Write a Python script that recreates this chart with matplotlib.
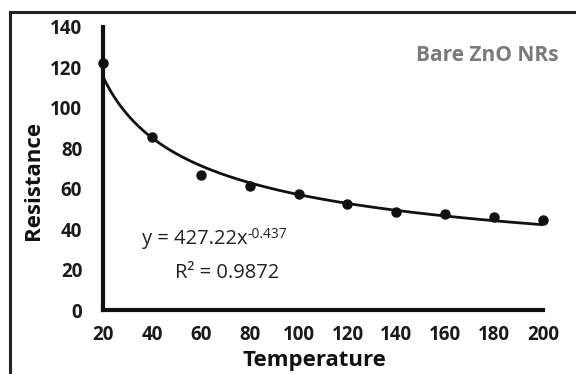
import numpy as np
import matplotlib.pyplot as plt
from matplotlib.lines import Line2D

plt.rcParams['font.family'] = ['Open Sans', 'DejaVu Sans']

temperature = [20, 40, 60, 80, 100, 120, 140, 160, 180, 200]
resistance = [122, 85.5, 67, 61.3, 57.2, 52.4, 48.6, 47.3, 46, 44.3]

# power trendline y = a * x^b
coef_a = 427.22
coef_b = -0.437
r_squared = 0.9872

fig = plt.figure(figsize=(5.76, 3.74), dpi=100)
ax = fig.add_axes([103/576, 1 - 310/374, 440/576, 283/374])

xs = np.linspace(20, 200, 300)
ax.plot(xs, coef_a * xs ** coef_b, color='#111111', lw=2.0, zorder=2)
ax.plot(temperature, resistance, 'o', color='#111111', ms=6.5, zorder=3,
        clip_on=False)

ax.set_xlim(20, 200)
ax.set_ylim(0, 140)
ax.set_xticks(range(20, 201, 20))
ax.set_yticks(range(0, 141, 20))
ax.tick_params(axis='y', length=0, labelsize=13.5, pad=15, colors='#1a1a1a')
ax.tick_params(axis='x', length=0, labelsize=13.5, pad=11, colors='#1a1a1a')
for lbl in ax.get_xticklabels() + ax.get_yticklabels():
    lbl.set_fontweight('bold')

for side in ['top', 'right']:
    ax.spines[side].set_visible(False)
for side in ['left', 'bottom']:
    ax.spines[side].set_linewidth(3)
    ax.spines[side].set_color('#111111')

ax.text(0.48, -0.177, 'Temperature', transform=ax.transAxes, fontsize=16,
        fontweight='bold', color='#111111', ha='center', va='center')
ax.text(-0.159, 0.459, 'Resistance', transform=ax.transAxes, fontsize=16,
        fontweight='bold', color='#111111', ha='center', va='center',
        rotation=90)

# trendline equation, exponent set as a superscript after the base text
eq = ax.text(36, 32.7, 'y = %.2fx' % coef_a, fontsize=14.5,
             color='#222222', va='baseline', ha='left')
ax.annotate('%s' % coef_b, xy=(1, 1.08), xycoords=eq, fontsize=10,
            color='#222222', ha='left', va='top')
ax.text(70.7, 15.8, 'R² = %.4f' % r_squared, fontsize=14.5, color='#222222',
        va='baseline', ha='center')

fig.text(558/576, 1 - 61/374, 'Bare ZnO NRs', fontsize=15, fontweight='bold',
         color='#7a7a7a', ha='right', va='baseline')

# frame around the chart area
fig.add_artist(Line2D([10/576, 10/576], [0, 1 - 12/374], color='#222222', lw=2.2))
fig.add_artist(Line2D([10/576, 1], [1 - 12/374, 1 - 12/374], color='#222222', lw=2.2))

fig.savefig('out.png', dpi=100)
